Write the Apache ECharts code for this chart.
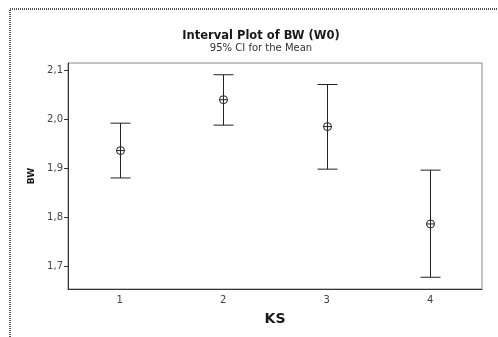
<!DOCTYPE html>
<html><head><meta charset="utf-8">
<script src="https://cdn.jsdelivr.net/npm/echarts@6/dist/echarts.min.js"></script>
<style>html,body{margin:0;padding:0;background:#fff}#c{width:498px;height:337px}</style>
</head><body><div id="c"></div>
<script>
const categories = ['1', '2', '3', '4'];
const means = [1.936, 2.040, 1.985, 1.786];
const lowers = [1.880, 1.988, 1.898, 1.677];
const uppers = [1.992, 2.091, 2.071, 1.896];
const yTicks = [1.7, 1.8, 1.9, 2.0, 2.1];

const FONT = 'DejaVu Sans';
const data = categories.map((c, i) => [i, lowers[i], means[i], uppers[i]]);

const chart = echarts.init(document.getElementById('c'), null, {renderer: 'canvas'});
chart.setOption({
  animation: false,
  backgroundColor: '#fff',
  title: {
    text: 'Interval Plot of BW (W0)',
    subtext: '95% CI for the Mean',
    left: 256, top: 25, textAlign: 'center', itemGap: 1,
    textStyle: {fontFamily: FONT, fontSize: 11.5, fontWeight: 'bold', color: '#1a1a1a'},
    subtextStyle: {fontFamily: FONT, fontSize: 10, color: '#333'}
  },
  graphic: [{
    type: 'polyline', silent: true,
    shape: {points: [[10, 337], [10, 9], [498, 9]]},
    style: {stroke: '#555', lineWidth: 2, lineDash: [1, 1], fill: null}
  }],
  grid: {left: 68, right: 16, top: 63, bottom: 48, show: true, borderColor: '#888', borderWidth: 1},
  xAxis: {
    type: 'category', data: categories, boundaryGap: true,
    name: 'KS', nameLocation: 'middle', nameGap: 23,
    nameTextStyle: {fontFamily: FONT, fontSize: 14, fontWeight: 'bold', color: '#1a1a1a'},
    axisLine: {lineStyle: {color: '#333', width: 1}},
    axisTick: {alignWithLabel: true, length: 4, lineStyle: {color: '#333'}},
    axisLabel: {fontFamily: FONT, fontSize: 10, color: '#444', margin: 6},
    splitLine: {show: false}
  },
  yAxis: {
    type: 'value', min: 1.653, max: 2.115,
    name: 'BW', nameLocation: 'middle', nameGap: 30, nameRotate: 90,
    nameTextStyle: {fontFamily: FONT, fontSize: 9, fontWeight: 'bold', color: '#1a1a1a'},
    axisLine: {show: true, lineStyle: {color: '#333', width: 1}},
    axisTick: {show: true, length: 4, customValues: yTicks, lineStyle: {color: '#333'}},
    axisLabel: {fontFamily: FONT, fontSize: 10, color: '#444', margin: 5, customValues: yTicks,
      formatter: v => v.toFixed(1).replace('.', ',')},
    splitLine: {show: false}
  },
  series: [{
    type: 'custom',
    data: data,
    encode: {x: 0, y: [1, 2, 3]},
    renderItem: function (params, api) {
      const x = api.value(0);
      const lo = api.coord([x, api.value(1)]);
      const mid = api.coord([x, api.value(2)]);
      const hi = api.coord([x, api.value(3)]);
      const hw = 10, r = 4;
      const st = {stroke: '#222', lineWidth: 1, fill: null};
      const cx = Math.round(lo[0]) + 0.5;
      return {
        type: 'group',
        children: [
          {type: 'line', shape: {x1: cx, y1: hi[1], x2: cx, y2: lo[1]}, style: st},
          {type: 'line', shape: {x1: cx - hw, y1: hi[1], x2: cx + hw, y2: hi[1]}, style: st},
          {type: 'line', shape: {x1: cx - hw, y1: lo[1], x2: cx + hw, y2: lo[1]}, style: st},
          {type: 'circle', shape: {cx: cx, cy: mid[1], r: r}, style: {stroke: '#222', lineWidth: 1, fill: '#fff'}},
          {type: 'line', shape: {x1: cx - r, y1: mid[1], x2: cx + r, y2: mid[1]}, style: st},
          {type: 'line', shape: {x1: cx, y1: mid[1] - r, x2: cx, y2: mid[1] + r}, style: st}
        ]
      };
    }
  }]
});
</script>
</body></html>
